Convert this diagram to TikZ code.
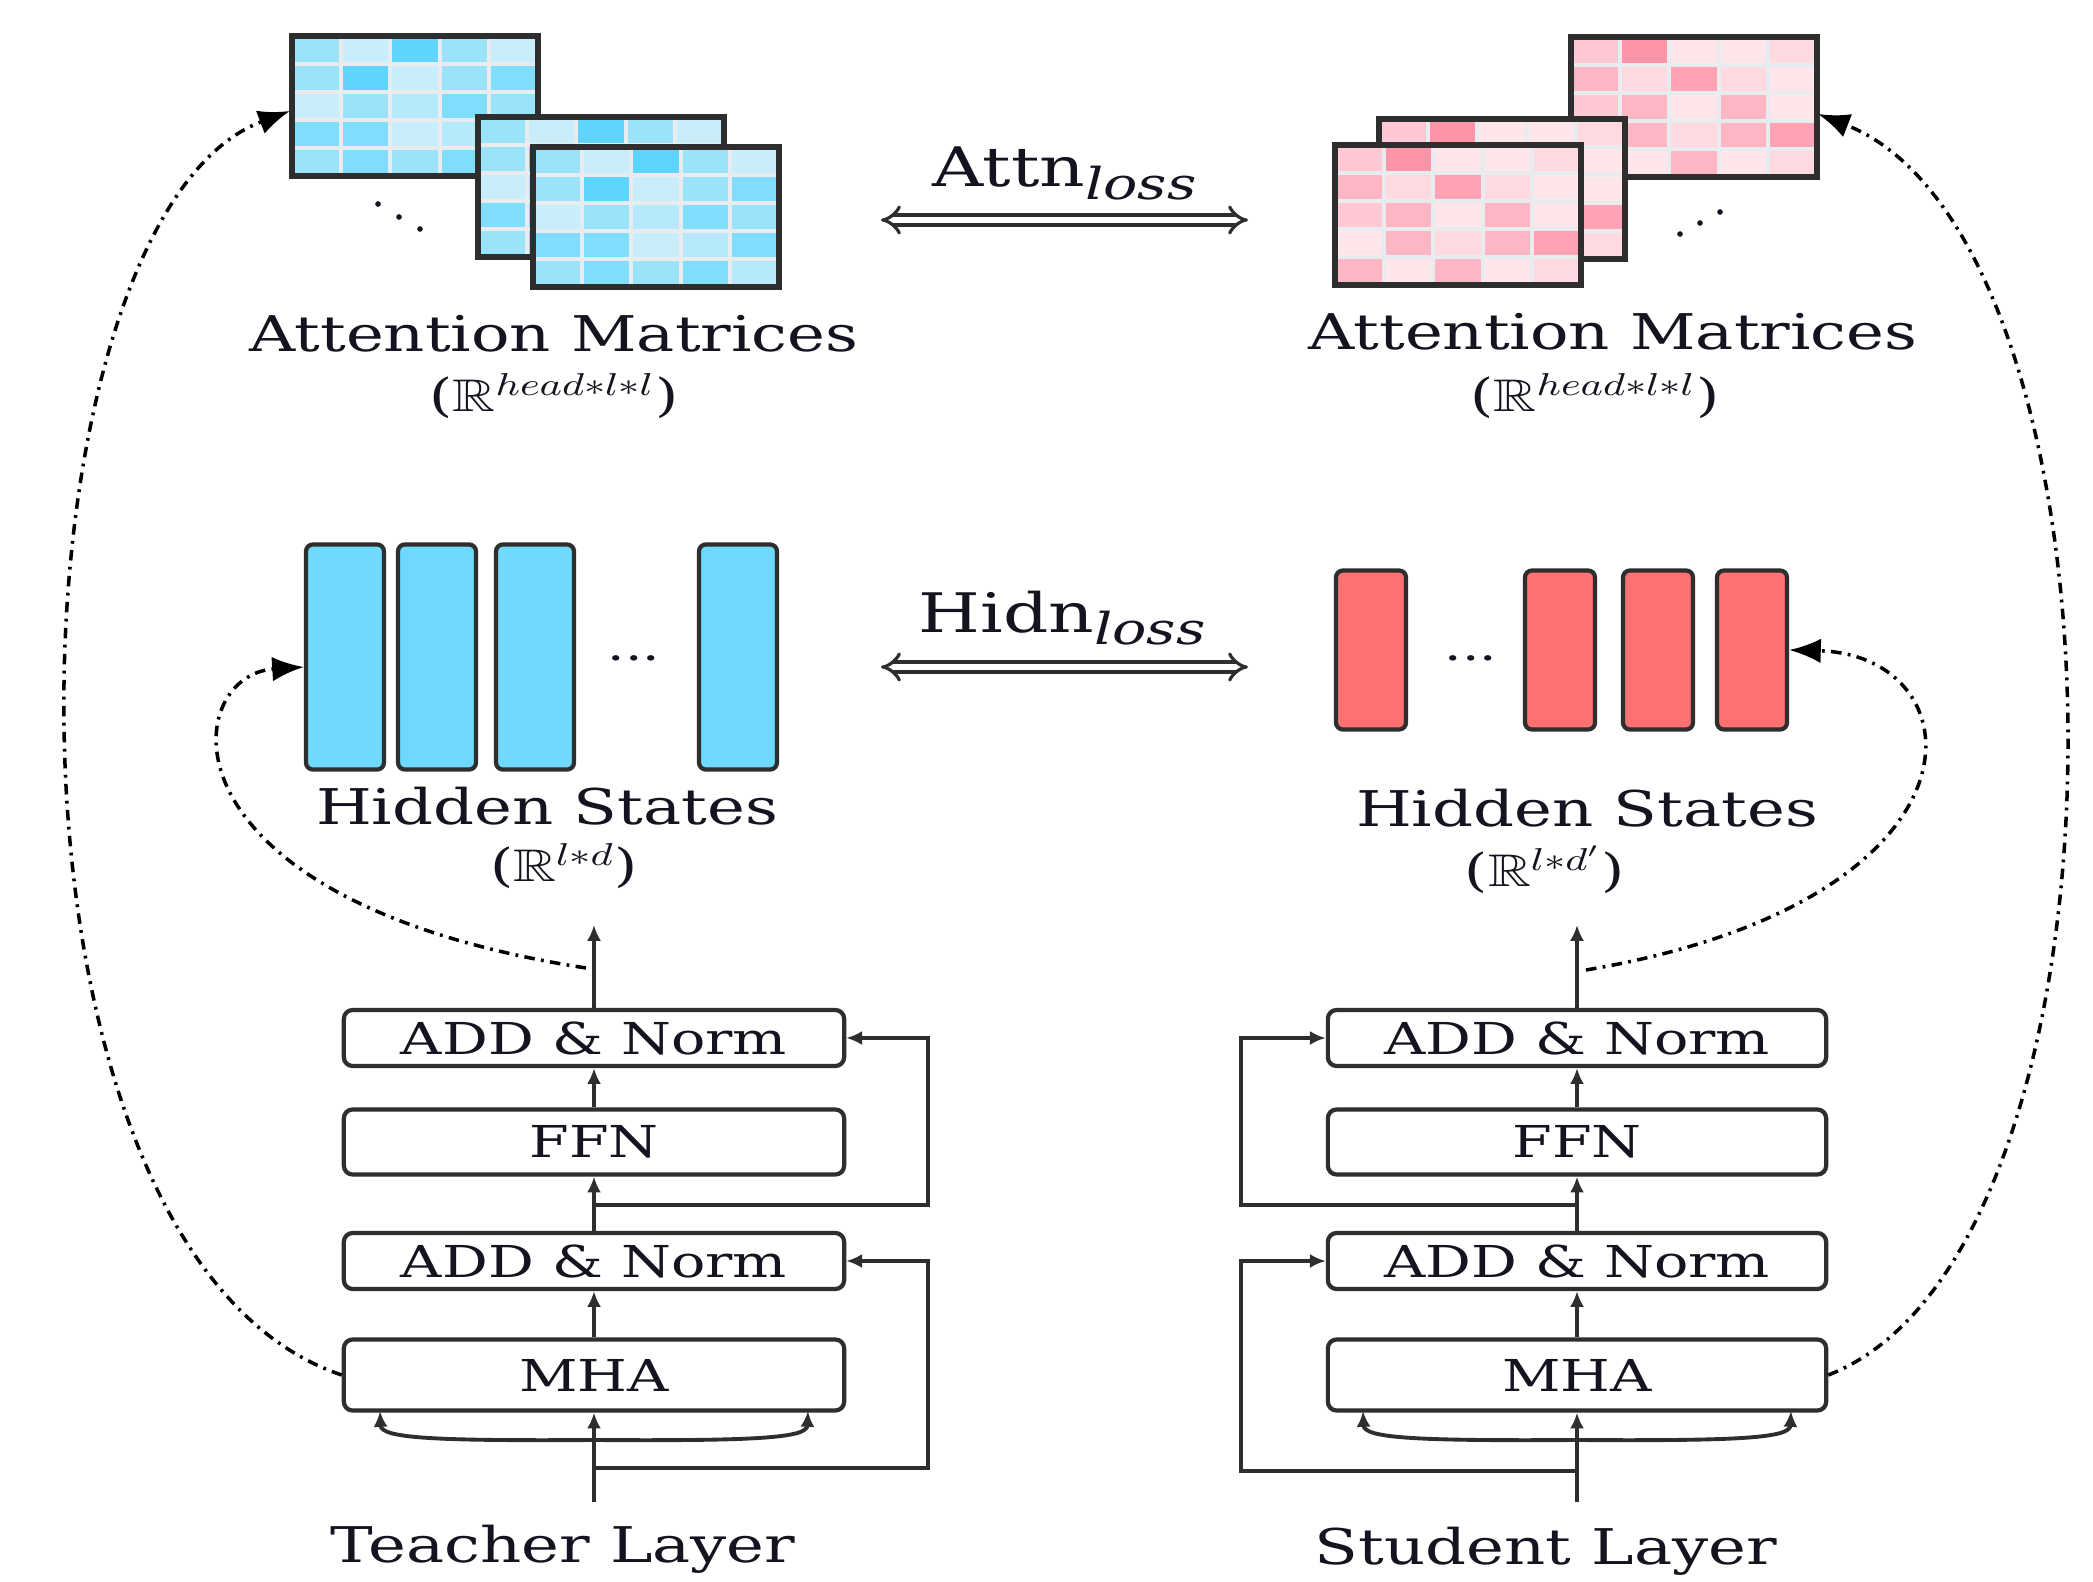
\documentclass[tikz,border=0pt]{standalone}
\usepackage{fontspec}
\setmainfont{DejaVu Serif}
\usepackage{amssymb}
\usepackage{graphicx}
\usetikzlibrary{arrows.meta}
\newcommand{\hsx}[1]{\scalebox{1.3}[1]{#1}}
\definecolor{bord}{HTML}{2E2E2E}
\definecolor{txt}{HTML}{141420}
\definecolor{gridc}{HTML}{E9ECEE}
\definecolor{b1}{HTML}{C8EEFC}
\definecolor{b2}{HTML}{9AE3FB}
\definecolor{b3}{HTML}{5FD5FD}
\definecolor{b4}{HTML}{80DDFC}
\definecolor{b5}{HTML}{B5E9FB}
\definecolor{r1}{HTML}{FFC8D3}
\definecolor{r2}{HTML}{FF93A8}
\definecolor{r3}{HTML}{FFE6EB}
\definecolor{r4}{HTML}{FFD9E0}
\definecolor{r5}{HTML}{FFB6C4}
\definecolor{r6}{HTML}{FFA2B4}
\definecolor{hblue}{HTML}{6ED9FD}
\definecolor{hred}{HTML}{FF7070}
\newcommand{\drawmat}[4]{%
  \fill[gridc] (#1,#2) rectangle ++(246,140);
  \foreach \c [count=\i from 0] in {#4} {
    \pgfmathtruncatemacro\col{mod(\i,5)}
    \pgfmathtruncatemacro\row{int(\i/5)}
    \fill[#3\c] ({#1+2+\col*49.2},{#2+2+\row*28}) rectangle ++(45.2,24);
  }
  \draw[matb] (#1,#2) rectangle ++(246,140);
}
\tikzset{
  lab/.style={font=\fontsize{14}{16}\selectfont, inner sep=0pt, anchor=base, text=txt},
  plab/.style={font=\fontsize{13}{15}\selectfont, inner sep=0pt, anchor=base, text=txt},
  blk/.style={draw=bord, line width=1.2pt, rounded corners=2.5pt, inner sep=0pt, text=txt, font=\fontsize{12.5}{14}\selectfont},
  arr/.style={draw=bord, line width=1.1pt, -{Latex[length=4.5pt,width=4pt]}},
  dd/.style={draw=black, line width=1pt, dash pattern=on 3pt off 1.8pt on 0.8pt off 1.8pt, -{Latex[length=9pt,width=7pt]}},
  dbl/.style={draw=bord, double=white, double distance=1.9pt, line width=0.9pt, {Implies}-{Implies}},
  hbar/.style={draw=bord, line width=1.2pt, rounded corners=2pt, inner sep=0pt},
  matb/.style={draw=bord, line width=1.5pt},
  lossl/.style={inner sep=0pt, anchor=base west, text=txt},
}
\begin{document}
\begin{tikzpicture}[x=0.01cm,y=-0.01cm]
\useasboundingbox (0,0) rectangle (2093,1582);
\fill[white] (0,0) rectangle (2093,1582);

% ---------- attention matrices (teacher) ----------
\drawmat{292}{36}{b}{2,1,3,2,1, 2,3,1,2,4, 1,2,5,4,2, 4,4,1,5,4, 2,4,2,4,5}
\drawmat{478}{117}{b}{2,1,3,2,1, 2,3,1,2,4, 1,2,5,4,2, 4,4,1,5,4, 2,4,2,4,5}
\drawmat{533}{147}{b}{2,1,3,2,1, 2,3,1,2,4, 1,2,5,4,2, 4,4,1,5,4, 2,4,2,4,5}
\fill[txt] (378,204) circle[radius=0.8pt];
\fill[txt] (399,217) circle[radius=0.8pt];
\fill[txt] (420,229) circle[radius=0.8pt];
\coordinate (m1in) at (290,111);

% ---------- attention matrices (student) ----------
\drawmat{1571}{37}{r}{1,2,3,3,4, 5,4,6,4,3, 1,5,3,5,3, 3,5,4,5,6, 5,3,5,3,4}
\drawmat{1379}{119}{r}{1,2,3,3,4, 5,4,6,4,3, 1,5,3,5,3, 3,5,4,5,6, 5,3,5,3,4}
\drawmat{1335}{145}{r}{1,2,3,3,4, 5,4,6,4,3, 1,5,3,5,3, 3,5,4,5,6, 5,3,5,3,4}
\fill[txt] (1680,234) circle[radius=0.8pt];
\fill[txt] (1700,223) circle[radius=0.8pt];
\fill[txt] (1720,212) circle[radius=0.8pt];
\coordinate (r1in) at (1818,114);

% ---------- labels ----------
\node[lab] (tam) at (554,352) {\hsx{Attention Matrices}};
\node[plab] (tar) at (554,411) {\hsx{($\mathbb{R}^{head*l*l}$)}};
\node[lab] (sam) at (1613,350) {\hsx{Attention Matrices}};
\node[plab] (sar) at (1595,411) {\hsx{($\mathbb{R}^{head*l*l}$)}};
\node[lab] (ths) at (547,824) {\hsx{Hidden States}};
\node[plab] (thr) at (564,881) {\hsx{($\mathbb{R}^{l*d}$)}};
\node[lab] (shs) at (1587,826) {\hsx{Hidden States}};
\node[plab] (shr) at (1545,886) {\hsx{($\mathbb{R}^{l*d'}$)}};
\node[lab] (tl) at (563,1562) {\hsx{Teacher Layer}};
\node[lab] (sl) at (1546,1564) {\hsx{Student Layer}};

% ---------- losses ----------
\node[lossl] (attnl) at (932,187) {\hsx{\fontsize{15.5}{18}\selectfont Attn\raisebox{-3.6pt}{\fontsize{12.5}{14}\selectfont\itshape loss}}};
\node[lossl] (hidnl) at (918,632) {\hsx{\fontsize{15.5}{18}\selectfont Hidn\raisebox{-3.6pt}{\fontsize{12.5}{14}\selectfont\itshape loss}}};
\coordinate (a1) at (881,220);
\coordinate (a2) at (1248,220);
\coordinate (h1) at (881,667);
\coordinate (h2) at (1248,667);
\draw[dbl] (a1) -- (a2);
\draw[dbl] (h1) -- (h2);

% ---------- hidden state bars ----------
\node[hbar, fill=hblue, minimum width=0.78cm, minimum height=2.25cm] (tb1) at (345,657) {};
\node[hbar, fill=hblue, minimum width=0.78cm, minimum height=2.25cm] (tb2) at (437,657) {};
\node[hbar, fill=hblue, minimum width=0.78cm, minimum height=2.25cm] (tb3) at (535,657) {};
\node[hbar, fill=hblue, minimum width=0.78cm, minimum height=2.25cm] (tb4) at (738,657) {};
\node[lab, font=\fontsize{12}{14}\selectfont] (tdots) at (634,660) {\hsx{...}};
\node[hbar, fill=hred, minimum width=0.70cm, minimum height=1.59cm] (sb1) at (1371,650) {};
\node[hbar, fill=hred, minimum width=0.70cm, minimum height=1.59cm] (sb2) at (1560,650) {};
\node[hbar, fill=hred, minimum width=0.70cm, minimum height=1.59cm] (sb3) at (1658,650) {};
\node[hbar, fill=hred, minimum width=0.70cm, minimum height=1.59cm] (sb4) at (1752,650) {};
\node[lab, font=\fontsize{12}{14}\selectfont] (sdots) at (1471,660) {\hsx{...}};

% ---------- teacher layer ----------
\node[blk, minimum width=5cm, minimum height=0.56cm] (tadd2) at (594,1038) {\hsx{ADD \& Norm}};
\node[blk, minimum width=5cm, minimum height=0.65cm] (tffn) at (594,1142) {\hsx{FFN}};
\node[blk, minimum width=5cm, minimum height=0.56cm] (tadd1) at (594,1261) {\hsx{ADD \& Norm}};
\node[blk, minimum width=5cm, minimum height=0.71cm] (tmha) at (594,1375) {\hsx{MHA}};
\coordinate (tin) at (594,1502);
\coordinate (tbr) at (594,1440);
\coordinate (tout) at (594,925);
\coordinate (tmid) at (586,968);
\coordinate (tr1) at (594,1205);
\coordinate (tr2) at (594,1468);
\draw[arr] (tin) -- (tmha.south);
\draw[arr] (tbr) .. controls (430,1441) and (381,1438) .. (380,1411);
\draw[arr] (tbr) .. controls (758,1441) and (807,1438) .. (808,1411);
\draw[arr] (tmha.north) -- (tadd1.south);
\draw[arr] (tadd1.north) -- (tffn.south);
\draw[arr] (tffn.north) -- (tadd2.south);
\draw[arr] (tadd2.north) -- (tout);
\draw[arr] (tr1) -- (928,1205) |- (tadd2.east);
\draw[arr] (tr2) -- (928,1468) |- (tadd1.east);

% ---------- student layer ----------
\node[blk, minimum width=4.98cm, minimum height=0.56cm] (sadd2) at (1577,1038) {\hsx{ADD \& Norm}};
\node[blk, minimum width=4.98cm, minimum height=0.65cm] (sffn) at (1577,1142) {\hsx{FFN}};
\node[blk, minimum width=4.98cm, minimum height=0.56cm] (sadd1) at (1577,1261) {\hsx{ADD \& Norm}};
\node[blk, minimum width=4.98cm, minimum height=0.71cm] (smha) at (1577,1375) {\hsx{MHA}};
\coordinate (sin) at (1577,1502);
\coordinate (sbr) at (1577,1440);
\coordinate (sout) at (1577,925);
\coordinate (smid) at (1586,970);
\coordinate (sr1) at (1577,1205);
\coordinate (sr2) at (1577,1471);
\draw[arr] (sin) -- (smha.south);
\draw[arr] (sbr) .. controls (1413,1441) and (1364,1438) .. (1363,1411);
\draw[arr] (sbr) .. controls (1741,1441) and (1790,1438) .. (1791,1411);
\draw[arr] (smha.north) -- (sadd1.south);
\draw[arr] (sadd1.north) -- (sffn.south);
\draw[arr] (sffn.north) -- (sadd2.south);
\draw[arr] (sadd2.north) -- (sout);
\draw[arr] (sr1) -- (1241,1205) |- (sadd2.west);
\draw[arr] (sr2) -- (1241,1471) |- (sadd1.west);

% ---------- distillation connectors ----------
\draw[dd] (tmha.west) .. controls (-30,1250) and (0,220) .. (m1in);
\draw[dd] (tmid) .. controls (150,900) and (180,675) .. ([yshift=-0.1cm]tb1.west);
\draw[dd] (smha.east) .. controls (2150,1250) and (2140,240) .. (r1in);
\draw[dd] (smid) .. controls (2000,900) and (1980,655) .. (sb4.east);
\end{tikzpicture}
\end{document}
